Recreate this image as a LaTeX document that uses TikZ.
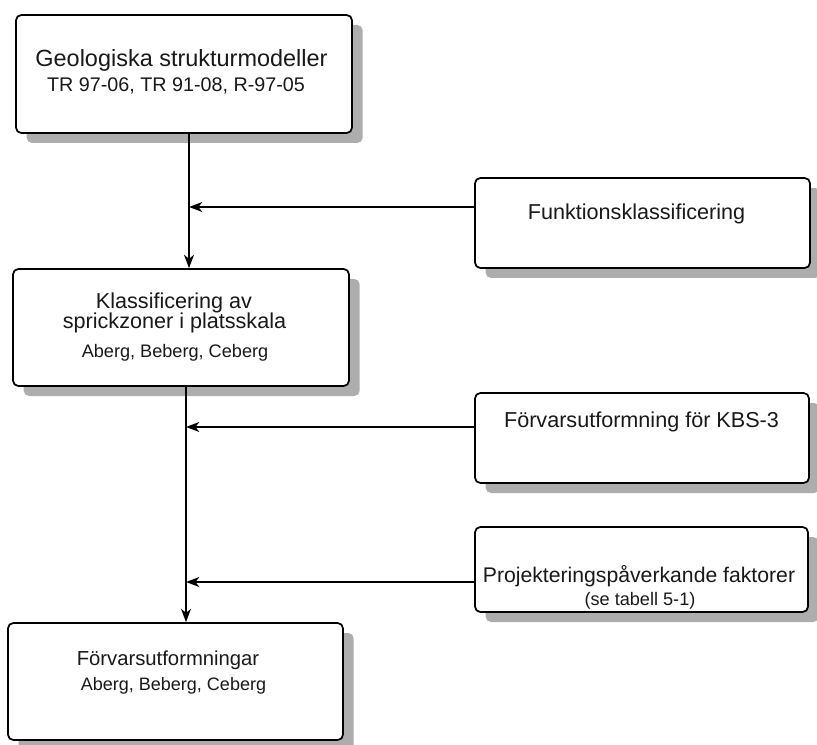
\documentclass[tikz,border=0pt]{standalone}
\usepackage{fontspec}
\setmainfont{Liberation Sans}
\usetikzlibrary{arrows.meta,fit,shadows}
\newcommand{\fs}[1]{\fontsize{#1pt}{#1pt}\selectfont}
\begin{document}
\begin{tikzpicture}[x=0.75pt,y=-0.75pt,
  box/.style={draw=black, line width=1.3pt, rounded corners=4pt, fill=white, inner sep=0pt,
    drop shadow={shadow xshift=8pt, shadow yshift=-7.5pt, fill=black!32, opacity=1}},
  txt/.style={anchor=base, inner sep=0pt, text=black!90},
  arr/.style={line width=1.1pt, -{Stealth[length=10pt,width=7.5pt,inset=3pt]}},
  ln/.style={line width=1.1pt}]
\useasboundingbox (0,0) rectangle (817,745);
% boxes
\node[box, fit={(16,15)(352,133)}] (b1) {};
\node[box, fit={(475,178)(810,268)}] (funk) {};
\node[box, fit={(13,269)(349,386)}] (b2) {};
\node[box, fit={(475,393)(809,483)}] (kbs) {};
\node[box, fit={(475,527)(808,612)}] (proj) {};
\node[box, fit={(8,623)(343,740)}] (b3) {};
% texts
\node[txt, font=\fs{17.6}] (t1a) at (181.5,67) {Geologiska strukturmodeller};
\node[txt, font=\fs{14.8}] (t1b) at (176,92) {TR 97-06, TR 91-08, R-97-05};
\node[txt, font=\fs{16.2}] (tf) at (636.5,220) {Funktionsklassificering};
\node[txt, font=\fs{16.2}] (t2a) at (174,308) {Klassificering av};
\node[txt, font=\fs{16.2}] (t2b) at (174.5,328) {sprickzoner i platsskala};
\node[txt, font=\fs{13.6}] (t2c) at (175,357) {Aberg, Beberg, Ceberg};
\node[txt, font=\fs{16.2}] (tk) at (641.5,427) {Förvarsutformning för KBS-3};
\node[txt, font=\fs{15.9}] (tpa) at (639,582) {Projekteringspåverkande faktorer};
\node[txt, font=\fs{13.6}] (tpb) at (640,605) {(se tabell 5-1)};
\node[txt, font=\fs{15.2}] (t3a) at (168,665) {Förvarsutformningar};
\node[txt, font=\fs{13.5}] (t3b) at (173.5,690) {Aberg, Beberg, Ceberg};
% connector coordinates
\coordinate (xa) at (189,0);
\coordinate (xb) at (186,0);
\coordinate (ya) at (0,207);
\coordinate (yk) at (0,427);
\coordinate (yp) at (0,582);
% connectors
\draw[arr] (b1.south -| xa) -- (b2.north -| xa);
\draw[arr] (funk.west |- ya) -- (xa |- ya);
\draw[arr] (b2.south -| xb) -- (b3.north -| xb);
\draw[arr] (kbs.west |- yk) -- (xb |- yk);
\draw[arr] (proj.west |- yp) -- (xb |- yp);
\end{tikzpicture}
\end{document}
